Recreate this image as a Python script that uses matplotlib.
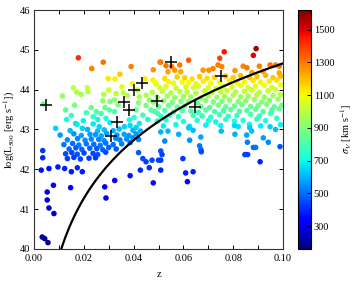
import numpy as np
import matplotlib
matplotlib.use("Agg")
import matplotlib.pyplot as plt
from matplotlib.ticker import FormatStrFormatter

plt.rcParams['font.family'] = ['Liberation Serif', 'DejaVu Serif']
plt.rcParams['mathtext.fontset'] = 'stix'
plt.rcParams['font.size'] = 7.5

# ---------------- data ----------------
# bright / high-luminosity clusters
top_z = [0.0178, 0.0232, 0.0278, 0.0390, 0.0479, 0.0506, 0.0298, 0.0325, 0.0345, 0.0585,
         0.0621, 0.0764, 0.0892, 0.0881, 0.0746, 0.0754, 0.0840, 0.0855, 0.0905, 0.0948,
         0.0970, 0.0985, 0.0807, 0.0875, 0.0920, 0.0985, 0.0538, 0.0565, 0.0589, 0.0679,
         0.0702, 0.0719, 0.0739, 0.0509, 0.0553, 0.0530]
top_L = [44.80, 44.53, 44.69, 44.58, 44.50, 44.69, 44.28, 44.27, 44.39, 44.62,
         44.74, 44.95, 45.03, 44.86, 44.79, 44.58, 44.59, 44.55, 44.59, 44.62,
         44.62, 44.59, 44.48, 44.43, 44.46, 44.42, 44.45, 44.49, 44.45, 44.49,
         44.49, 44.53, 44.62, 44.69, 44.58, 44.60]
top_s = [1420, 1290, 1320, 1290, 1260, 1310, 1130, 1110, 1180, 1300,
         1350, 1460, 1570, 1490, 1380, 1290, 1280, 1300, 1290, 1310,
         1280, 1300, 1250, 1240, 1260, 1230, 1240, 1260, 1230, 1250,
         1270, 1280, 1300, 1300, 1290, 1310]

# low-z, intermediate luminosity clusters
mid_z = [0.0158, 0.0171, 0.0189, 0.0214, 0.0217, 0.0114, 0.0037, 0.0230, 0.0163, 0.0127,
         0.0131, 0.0167, 0.0173, 0.0198, 0.0238, 0.0238, 0.0087, 0.0194, 0.0300, 0.0353,
         0.0359, 0.0477, 0.0490, 0.0416, 0.0276, 0.0305, 0.0323, 0.0423, 0.0450, 0.0463,
         0.0450, 0.0420, 0.0302, 0.0323, 0.0269, 0.0410, 0.0437, 0.0470, 0.0497, 0.0256,
         0.0289, 0.0305, 0.0383, 0.0402, 0.0423, 0.0457, 0.0262, 0.0363, 0.0386, 0.0410,
         0.0446, 0.0395, 0.0375, 0.0338, 0.0285, 0.0250, 0.0210, 0.0150, 0.0330, 0.0280]
mid_L = [44.05, 43.94, 43.88, 44.05, 43.95, 43.84, 43.64, 43.55, 43.61, 43.49,
         43.25, 43.15, 43.13, 43.22, 43.32, 43.14, 43.03, 43.03, 43.99, 44.07,
         43.92, 44.24, 44.14, 43.99, 43.72, 43.70, 43.74, 43.82, 43.86, 43.74,
         43.60, 43.67, 43.49, 43.45, 43.40, 43.49, 43.36, 43.49, 43.40, 43.25,
         43.28, 43.17, 43.24, 43.30, 43.15, 43.25, 43.07, 43.07, 43.10, 43.05,
         44.27, 44.15, 43.85, 43.62, 43.55, 43.45, 43.42, 43.35, 43.90, 43.88]
mid_s = [1010, 980, 960, 1030, 990, 940, 850, 860, 880, 830,
         710, 670, 680, 690, 740, 680, 640, 640, 1040, 1060,
         1000, 1110, 1080, 1020, 910, 900, 920, 960, 980, 930,
         880, 900, 820, 800, 790, 840, 790, 830, 800, 700,
         720, 680, 710, 740, 680, 710, 650, 640, 660, 650,
         1120, 1080, 990, 890, 860, 820, 800, 770, 1000, 980]

# dense low-z blue cloud
cloud_z = [0.0145, 0.0215, 0.0255, 0.0282, 0.0318, 0.0342, 0.0397, 0.0428,
           0.0105, 0.0160, 0.0190, 0.0225, 0.0247, 0.0270, 0.0292, 0.0333, 0.0362, 0.0381, 0.0410,
           0.0134, 0.0175, 0.0205, 0.0230, 0.0260, 0.0281, 0.0328, 0.0345, 0.0372, 0.0397, 0.0420,
           0.0120, 0.0155, 0.0180, 0.0210, 0.0240, 0.0266, 0.0288, 0.0318, 0.0352, 0.0386,
           0.0141, 0.0168, 0.0192, 0.0224, 0.0252, 0.0276, 0.0300, 0.0330,
           0.0127, 0.0152, 0.0174, 0.0201, 0.0237, 0.0256, 0.0288,
           0.0134, 0.0160, 0.0186, 0.0221, 0.0247]
cloud_L = [42.97, 43.00, 42.96, 42.99, 42.97, 43.01, 42.98, 42.96,
           42.86, 42.89, 42.85, 42.88, 42.87, 42.84, 42.90, 42.86, 42.88, 42.85, 42.89,
           42.74, 42.77, 42.73, 42.76, 42.75, 42.72, 42.78, 42.74, 42.76, 42.79, 42.75,
           42.62, 42.65, 42.61, 42.64, 42.63, 42.60, 42.66, 42.62, 42.64, 42.67,
           42.51, 42.54, 42.50, 42.53, 42.52, 42.49, 42.55, 42.51,
           42.39, 42.42, 42.38, 42.41, 42.40, 42.37, 42.43,
           42.27, 42.30, 42.26, 42.28, 42.29]
cloud_s = [610, 600, 620, 610, 600, 620, 610, 600,
           570, 560, 580, 570, 560, 580, 570, 560, 580, 570, 560,
           540, 530, 550, 540, 530, 550, 540, 530, 550, 540, 530,
           510, 500, 520, 510, 500, 520, 510, 500, 520, 510,
           480, 470, 490, 480, 470, 490, 480, 470,
           450, 440, 460, 450, 440, 460, 450,
           430, 420, 440, 430, 420]

# dense band at higher redshift, row by row
band_z = [0.0525, 0.0575, 0.0605, 0.0635, 0.0665, 0.0695, 0.0725, 0.0770, 0.0800, 0.0830, 0.0865, 0.0895, 0.0930, 0.0960, 0.0990,
          0.0490, 0.0540, 0.0560, 0.0595, 0.0620, 0.0650, 0.0680, 0.0710, 0.0745, 0.0785, 0.0815, 0.0845, 0.0880, 0.0910, 0.0945, 0.0975,
          0.0505, 0.0530, 0.0570, 0.0610, 0.0640, 0.0660, 0.0700, 0.0730, 0.0760, 0.0795, 0.0830, 0.0860, 0.0890, 0.0925, 0.0955, 0.0990,
          0.0475, 0.0515, 0.0550, 0.0585, 0.0615, 0.0650, 0.0685, 0.0715, 0.0750, 0.0775, 0.0810, 0.0845, 0.0875, 0.0905, 0.0940, 0.0970,
          0.0495, 0.0535, 0.0565, 0.0600, 0.0630, 0.0670, 0.0700, 0.0735, 0.0765, 0.0800, 0.0830, 0.0860, 0.0895, 0.0925, 0.0960, 0.0990,
          0.0480, 0.0520, 0.0555, 0.0590, 0.0620, 0.0655, 0.0690, 0.0720, 0.0755, 0.0785, 0.0820, 0.0850, 0.0885, 0.0915, 0.0945, 0.0980,
          0.0500, 0.0540, 0.0575, 0.0605, 0.0670, 0.0705, 0.0740, 0.0770, 0.0805, 0.0835, 0.0870, 0.0900, 0.0935, 0.0965, 0.0995,
          0.0485, 0.0525, 0.0560, 0.0595, 0.0630, 0.0660, 0.0690, 0.0725, 0.0760, 0.0790, 0.0825, 0.0855, 0.0890, 0.0920, 0.0955, 0.0985,
          0.0510, 0.0545, 0.0580, 0.0640, 0.0675, 0.0710, 0.0745, 0.0780, 0.0815, 0.0870, 0.0905, 0.0950,
          0.0495, 0.0530, 0.0600, 0.0655, 0.0700, 0.0730, 0.0770, 0.0805, 0.0840, 0.0895, 0.0930, 0.0975,
          0.0520, 0.0570, 0.0625, 0.0690, 0.0750, 0.0820, 0.0865, 0.0910, 0.0990]
band_L = [44.28, 44.32, 44.30, 44.27, 44.33, 44.29, 44.31, 44.34, 44.30, 44.35, 44.31, 44.33, 44.36, 44.30, 44.34,
          44.17, 44.20, 44.16, 44.19, 44.18, 44.15, 44.21, 44.17, 44.19, 44.22, 44.18, 44.20, 44.23, 44.19, 44.21, 44.24,
          44.05, 44.08, 44.04, 44.07, 44.05, 44.09, 44.06, 44.03, 44.08, 44.07, 44.10, 44.05, 44.09, 44.11, 44.06, 44.12,
          43.93, 43.96, 43.92, 43.95, 43.94, 43.91, 43.97, 43.93, 43.95, 43.98, 43.94, 43.96, 43.99, 43.93, 43.97, 44.00,
          43.81, 43.84, 43.80, 43.83, 43.82, 43.79, 43.85, 43.81, 43.83, 43.86, 43.82, 43.84, 43.87, 43.81, 43.85, 43.88,
          43.69, 43.72, 43.68, 43.71, 43.70, 43.67, 43.73, 43.69, 43.71, 43.74, 43.70, 43.72, 43.75, 43.69, 43.73, 43.76,
          43.57, 43.60, 43.56, 43.59, 43.58, 43.55, 43.61, 43.57, 43.59, 43.62, 43.58, 43.60, 43.63, 43.57, 43.61,
          43.45, 43.48, 43.44, 43.47, 43.46, 43.43, 43.49, 43.45, 43.47, 43.50, 43.46, 43.48, 43.51, 43.45, 43.49, 43.52,
          43.33, 43.36, 43.32, 43.35, 43.34, 43.31, 43.37, 43.33, 43.35, 43.38, 43.34, 43.40,
          43.21, 43.24, 43.20, 43.23, 43.22, 43.19, 43.25, 43.21, 43.23, 43.26, 43.22, 43.28,
          43.09, 43.12, 43.08, 43.11, 43.10, 43.07, 43.13, 43.09, 43.12]
band_s = [1150, 1170, 1160, 1140, 1180, 1150, 1160, 1190, 1170, 1200, 1180, 1190, 1210, 1170, 1200,
          1090, 1110, 1080, 1100, 1100, 1070, 1120, 1090, 1100, 1130, 1100, 1110, 1140, 1110, 1120, 1150,
          1040, 1060, 1030, 1050, 1040, 1070, 1050, 1020, 1060, 1050, 1080, 1040, 1070, 1090, 1050, 1090,
          990, 1010, 980, 1000, 1000, 970, 1020, 990, 1000, 1030, 990, 1010, 1040, 990, 1010, 1040,
          940, 960, 930, 950, 950, 920, 970, 940, 950, 980, 940, 960, 990, 940, 960, 990,
          890, 910, 880, 900, 900, 870, 920, 890, 900, 930, 890, 910, 940, 890, 910, 940,
          850, 870, 840, 860, 860, 830, 880, 850, 860, 890, 850, 870, 900, 850, 870,
          800, 820, 790, 810, 810, 780, 830, 800, 810, 840, 800, 820, 850, 800, 820, 850,
          760, 780, 750, 770, 770, 740, 790, 760, 770, 800, 770, 790,
          720, 740, 710, 730, 730, 700, 750, 720, 730, 760, 730, 750,
          680, 700, 670, 690, 690, 660, 700, 680, 690]

# faint / low-luminosity clusters
low_z = [0.0509, 0.0538, 0.0581, 0.0621, 0.0639, 0.0670, 0.0752, 0.0807, 0.0854, 0.0874,
         0.0921, 0.0948, 0.0970, 0.0805, 0.0866, 0.0525, 0.0625, 0.0941, 0.0857, 0.0881,
         0.0890, 0.0665, 0.0670, 0.0988,
         0.0509, 0.0514, 0.0509, 0.0509, 0.0598, 0.0672, 0.0609, 0.0639, 0.0616, 0.0847,
         0.0858, 0.0908, 0.0420, 0.0437, 0.0450, 0.0463, 0.0427, 0.0474, 0.0500, 0.0479,
         0.0386, 0.0324, 0.0284, 0.0289,
         0.0035, 0.0035, 0.0029, 0.0060, 0.0096, 0.0123, 0.0150, 0.0174, 0.0194, 0.0147,
         0.0078, 0.0053, 0.0053, 0.0060, 0.0080, 0.0033, 0.0043, 0.0056]
low_L = [42.94, 42.96, 42.88, 43.04, 42.98, 42.81, 42.96, 42.88, 42.86, 42.96,
         42.79, 43.07, 43.00, 43.10, 43.05, 42.71, 42.73, 42.68, 42.68, 42.55,
         42.55, 42.59, 42.50, 42.57,
         42.46, 42.37, 42.23, 41.98, 42.27, 42.44, 41.91, 41.94, 41.69, 42.37,
         42.37, 42.19, 42.42, 42.27, 42.19, 42.04, 41.98, 42.23, 42.23, 41.66,
         41.84, 41.72, 41.56, 41.28,
         42.47, 42.29, 41.98, 42.02, 42.06, 42.02, 41.94, 42.04, 41.94, 41.54,
         41.60, 41.43, 41.23, 41.03, 40.89, 40.30, 40.26, 40.16]
low_s = [600, 610, 590, 630, 620, 580, 610, 590, 580, 620,
         570, 640, 620, 650, 630, 540, 550, 540, 530, 500,
         510, 510, 500, 470,
         460, 440, 420, 390, 420, 450, 380, 390, 350, 430,
         430, 390, 470, 450, 430, 410, 400, 440, 430, 360,
         370, 350, 330, 310,
         420, 400, 360, 370, 380, 390, 380, 400, 380, 320,
         320, 300, 280, 260, 250, 200, 190, 180]

# highlighted clusters (black crosses)
plus_z = [0.0047, 0.0310, 0.0335, 0.0361, 0.0383, 0.0403, 0.0432, 0.0493, 0.0549, 0.0645, 0.0751]
plus_L = [43.61, 42.83, 43.18, 43.70, 43.49, 43.99, 44.16, 43.71, 44.69, 43.57, 44.35]

# flux-limit curve: log L = A + B log10(z)
curve_A = 49.51
curve_B = 4.85
curve_zmin = 0.0105

sigma_ticks = [300, 500, 700, 900, 1100, 1300, 1500]
sigma_range = (160, 1620)

# ---------------- plot ----------------
z_all = np.concatenate([top_z, mid_z, cloud_z, band_z, low_z])
L_all = np.concatenate([top_L, mid_L, cloud_L, band_L, low_L])
s_all = np.concatenate([top_s, mid_s, cloud_s, band_s, low_s])

fig = plt.figure(figsize=(3.55, 2.81), dpi=100)
ax = fig.add_axes([0.0958, 0.1139, 0.7014, 0.8505])
sc = ax.scatter(z_all, L_all, c=s_all, cmap='jet', vmin=sigma_range[0], vmax=sigma_range[1],
                s=16, linewidths=0, zorder=2)
zc = np.linspace(curve_zmin, 0.1, 300)
ax.plot(zc, curve_A + curve_B * np.log10(zc), color='k', lw=1.6, zorder=3)
ax.plot(plus_z, plus_L, '+', color='k', ms=9, mew=1.1, zorder=4)

ax.set_xlim(0, 0.1)
ax.set_ylim(40, 46)
ax.set_xticks(np.arange(0, 0.1001, 0.02))
ax.set_xticks(np.arange(0.01, 0.1001, 0.02), minor=True)
ax.set_yticks(np.arange(40, 46.1, 1))
ax.xaxis.set_major_formatter(FormatStrFormatter('%.2f'))
ax.tick_params(which='both', direction='in', top=True, right=True, length=3, width=0.7)
ax.tick_params(axis='x', pad=3.5)
ax.tick_params(axis='y', pad=2.5)
for sp in ax.spines.values():
    sp.set_linewidth(0.8)
    sp.set_color('#333333')
ax.set_xlabel('z', labelpad=5)
ax.set_ylabel(r'log(L$_{500}$ [erg s$^{-1}$])', labelpad=2)

cax = fig.add_axes([0.8394, 0.1139, 0.0366, 0.8505])
cb = fig.colorbar(sc, cax=cax, ticks=sigma_ticks)
cb.outline.set_linewidth(0.8)
cax.tick_params(direction='in', length=3, width=0.7, pad=2)
cb.set_label(r'$\sigma_V$ [km s$^{-1}$]', labelpad=3)

fig.savefig('out.png', dpi=100)
